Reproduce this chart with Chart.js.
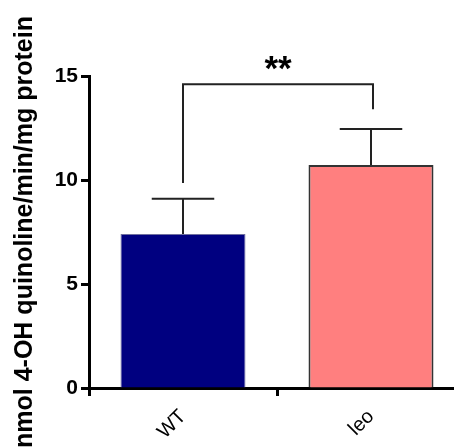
<!DOCTYPE html>
<html>
<head>
<meta charset="utf-8">
<script src="https://cdn.jsdelivr.net/npm/chart.js@4"></script>
<style>
    html, body { margin: 0; padding: 0; background: #fff; overflow: hidden; }
    #wrap { width: 454px; height: 448px; overflow: hidden; }
</style>
</head>
<body>
<div id="wrap"><canvas id="activityChart" width="470" height="448"></canvas></div>
<script>
const categories = ['WT', 'leo'];
const means = [7.4, 10.72];
const sems = [1.7, 1.73];
const barColors = ['#000080', '#ff7f7f'];
const barBorders = ['#6f6f9f', '#333333'];
const yTicks = { min: 0, max: 15, step: 5 };
const bracketY = 14.6;
const bracketLegs = [9.85, 13.4];
const sigLabel = '**';

const FONT = 'Liberation Sans, Arial, sans-serif';

// error bars + significance bracket
const extrasPlugin = {
    id: 'extras',
    afterDatasetsDraw(chart) {
        const ctx = chart.ctx;
        const meta = chart.getDatasetMeta(0);
        const y = chart.scales.y;
        ctx.save();
        ctx.strokeStyle = '#222';
        ctx.lineWidth = 2;
        meta.data.forEach((bar, i) => {
            const top = y.getPixelForValue(means[i] + sems[i]);
            const half = bar.width / 4;
            ctx.beginPath();
            ctx.moveTo(bar.x, bar.y);
            ctx.lineTo(bar.x, top);
            ctx.moveTo(bar.x - half, top);
            ctx.lineTo(bar.x + half, top);
            ctx.stroke();
        });

        const x0 = meta.data[0].x;
        const x1 = meta.data[1].x + 2;
        const yb = y.getPixelForValue(bracketY);
        ctx.beginPath();
        ctx.moveTo(x0, y.getPixelForValue(bracketLegs[0]));
        ctx.lineTo(x0, yb);
        ctx.lineTo(x1, yb);
        ctx.lineTo(x1, y.getPixelForValue(bracketLegs[1]));
        ctx.stroke();

        ctx.fillStyle = '#000';
        ctx.font = 'bold 35px ' + FONT;
        ctx.textAlign = 'center';
        ctx.textBaseline = 'alphabetic';
        ctx.fillText(sigLabel, (x0 + x1) / 2, yb - 4);
        ctx.restore();
    }
};

const config = {
    type: 'bar',
    data: {
        labels: categories,
        datasets: [{
            data: means,
            backgroundColor: barColors,
            borderColor: barBorders,
            borderWidth: [1, 2],
            barPercentage: 0.665,
            categoryPercentage: 1,
        }],
    },
    options: {
        responsive: false,
        animation: false,
        layout: { padding: { top: 76, right: 5, bottom: 0, left: 0 } },
        plugins: {
            legend: { display: false },
            tooltip: { enabled: false },
        },
        scales: {
            x: {
                afterFit(scale) { scale.height = 60; },
                border: { display: true, color: '#000', width: 3 },
                grid: { display: true, drawOnChartArea: false, drawTicks: true, tickLength: 8, tickWidth: 3, tickColor: '#000' },
                ticks: {
                    minRotation: 45,
                    maxRotation: 45,
                    padding: 9,
                    color: '#000',
                    font: { family: FONT, size: 20 },
                },
            },
            y: {
                min: yTicks.min,
                max: yTicks.max,
                afterFit(scale) { scale.width = 89; },
                border: { display: true, color: '#000', width: 3 },
                grid: { display: true, drawOnChartArea: false, drawTicks: true, tickLength: 8, tickWidth: 3, tickColor: '#000' },
                ticks: {
                    stepSize: yTicks.step,
                    padding: 3,
                    color: '#000',
                    font: { family: FONT, size: 21, weight: 'bold' },
                },
                title: {
                    display: true,
                    text: 'nmol 4-OH quinoline/min/mg protein',
                    color: '#000',
                    font: { family: FONT, size: 25, weight: 'bold' },
                    padding: { top: 10, bottom: 4 },
                },
            },
        },
    },
    plugins: [extrasPlugin],
};

document.addEventListener('DOMContentLoaded', () => {
    const $activityChart = document.getElementById('activityChart');
    new Chart($activityChart, config);
});
</script>
</body>
</html>
